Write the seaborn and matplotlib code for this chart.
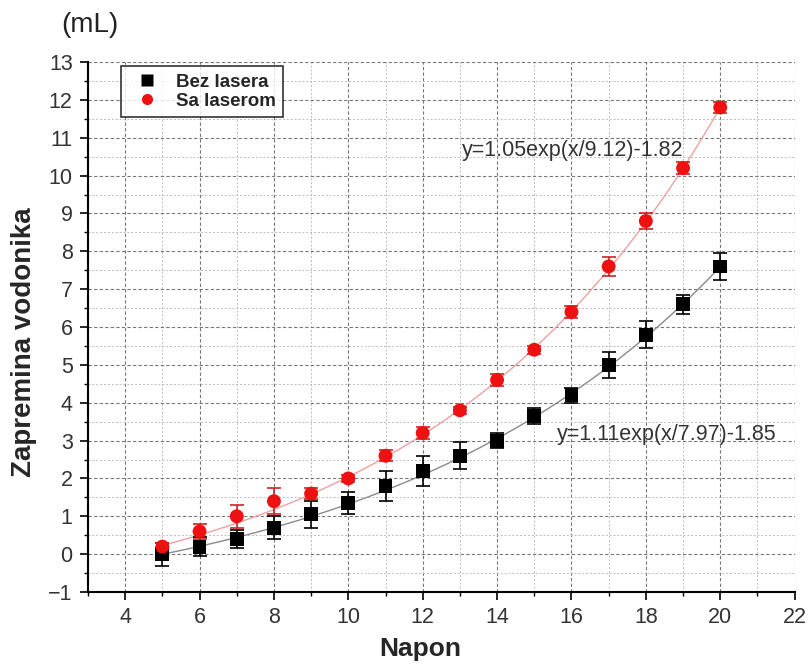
import numpy as np
import pandas as pd
import matplotlib
matplotlib.use("Agg")
import matplotlib.pyplot as plt
import seaborn as sns
from matplotlib.ticker import MultipleLocator

# ── Data ──────────────────────────────────────────────────────────────────────
napon = [5, 6, 7, 8, 9, 10, 11, 12, 13, 14, 15, 16, 17, 18, 19, 20]

bez_lasera = [0.0, 0.2, 0.4, 0.7, 1.05, 1.35, 1.8, 2.2, 2.6, 3.0, 3.65, 4.2, 5.0, 5.8, 6.6, 7.6]
bez_err = [0.3, 0.25, 0.25, 0.3, 0.35, 0.3, 0.4, 0.4, 0.35, 0.2, 0.2, 0.2, 0.35, 0.35, 0.25, 0.35]

sa_laserom = [0.2, 0.6, 1.0, 1.4, 1.6, 2.0, 2.6, 3.2, 3.8, 4.6, 5.4, 6.4, 7.6, 8.8, 10.2, 11.8]
sa_err = [0.1, 0.2, 0.3, 0.35, 0.15, 0.1, 0.15, 0.15, 0.1, 0.15, 0.1, 0.15, 0.25, 0.2, 0.15, 0.15]

# fit parameters as printed on the chart: y = A*exp(x/t) + y0
fit_bez = (1.05, 9.12, -1.82)
fit_sa = (1.11, 7.97, -1.85)
label_bez = "y=1.05exp(x/9.12)-1.82"
label_sa = "y=1.11exp(x/7.97)-1.85"

df = pd.DataFrame({"Napon": napon * 2,
                   "V": bez_lasera + sa_laserom,
                   "grupa": ["Bez lasera"] * 16 + ["Sa laserom"] * 16})

# ── Plot ──────────────────────────────────────────────────────────────────────
sns.set_theme(style="white")
plt.rcParams["font.family"] = ["Liberation Sans", "DejaVu Sans"]

fig = plt.figure(figsize=(8.1, 6.64), dpi=100)
ax = fig.add_axes([0.1086, 0.1084, 0.8724, 0.7982])

xs = np.linspace(5, 20, 200)
def fit(p, x):
    return p[0] * np.exp(x / p[1]) + p[2]

sns.lineplot(x=xs, y=fit(fit_bez, xs), color="#8a8a8a", lw=1.0, ax=ax, zorder=2)
sns.lineplot(x=xs, y=fit(fit_sa, xs), color="#f0a0a0", lw=1.0, ax=ax, zorder=2)

ax.errorbar(napon, bez_lasera, yerr=bez_err, fmt="none", ecolor="black",
            elinewidth=1.2, capsize=5, capthick=1.2, zorder=3)
ax.errorbar(napon, sa_laserom, yerr=sa_err, fmt="none", ecolor="#cc2222",
            elinewidth=1.2, capsize=5, capthick=1.2, zorder=3)

sns.scatterplot(data=df, x="Napon", y="V", hue="grupa", style="grupa",
                palette={"Bez lasera": "black", "Sa laserom": "#ee1111"},
                markers={"Bez lasera": "s", "Sa laserom": "o"},
                s=100, edgecolor="none", ax=ax, zorder=4)

ax.set_xlim(3, 22)
ax.set_ylim(-1, 13)
ax.xaxis.set_major_locator(MultipleLocator(2))
ax.xaxis.set_minor_locator(MultipleLocator(1))
ax.yaxis.set_major_locator(MultipleLocator(1))
ax.yaxis.set_minor_locator(MultipleLocator(0.5))
ax.grid(which="major", color="#777777", ls=(0, (3, 2)), lw=0.8)
ax.grid(which="minor", color="#bbbbbb", ls=(0, (2, 2)), lw=0.7)
ax.set_axisbelow(True)

for s in ["top", "right"]:
    ax.spines[s].set_visible(False)
for s in ["left", "bottom"]:
    ax.spines[s].set_color("black")
    ax.spines[s].set_linewidth(1.5)

ax.tick_params(which="major", direction="out", length=6, width=1.2, color="black",
               labelsize=15.5, labelcolor="#333333", bottom=True, left=True, pad=5)
ax.tick_params(which="minor", direction="out", length=3, width=1.0, color="black",
               bottom=True, left=True)

ax.set_xlabel("Napon", fontsize=19, fontweight="bold")
ax.set_ylabel("Zapremina vodonika", fontsize=20, fontweight="bold")
ax.xaxis.set_label_coords(0.47, -0.085)
ax.yaxis.set_label_coords(-0.072, 0.472)
fig.text(0.076, 0.962, "(mL)", fontsize=20, color="#222222", ha="left", va="center")

ax.text(13.05, 10.65, label_bez, fontsize=15.5, color="#333333", va="center")
ax.text(15.6, 3.15, label_sa, fontsize=15.5, color="#333333", va="center")

leg = ax.legend(loc="upper left", bbox_to_anchor=(0.047, 0.992), frameon=True,
                fancybox=False, edgecolor="black",
                prop={"weight": "bold", "size": 13.5}, handletextpad=0.5,
                borderpad=0.4, labelspacing=0.1, markerscale=0.8,
                borderaxespad=0)
leg.get_frame().set_linewidth(1.2)
leg.set_title(None)

fig.savefig("out.png", dpi=100, facecolor="white")
